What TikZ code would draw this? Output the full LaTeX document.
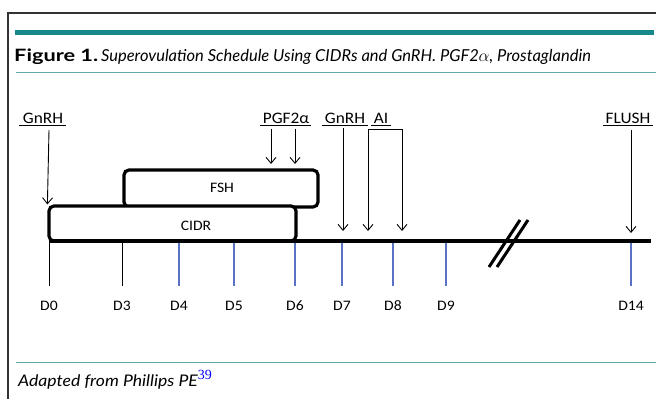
\documentclass[tikz,border=0pt]{standalone}
\usepackage{fontspec}
\setmainfont{Lato}
\newfontfamily\capbold[FakeStretch=1.28]{Lato}
\newfontfamily\footfont[FakeStretch=1.1]{Lato}
\newfontfamily\diag[FakeStretch=1.08]{Carlito}
\newfontfamily\sernum{Liberation Serif}
\usetikzlibrary{arrows.meta}
\definecolor{tealbar}{HTML}{17888A}
\definecolor{tealline}{HTML}{63A9AC}
\definecolor{tickblue}{HTML}{5A72C6}
\definecolor{framegray}{HTML}{333333}
\begin{document}
\begin{tikzpicture}[x=1pt,y=-1pt,
  lbl/.style={font=\diag\fontsize{16}{16}\selectfont, inner sep=0pt, anchor=base},
  day/.style={font=\diag\fontsize{14.5}{14}\selectfont, inner sep=0pt},
  boxtxt/.style={font=\diag\fontsize{14.5}{14}\selectfont, inner sep=0pt},
  arr/.style={-{Straight Barb[length=6pt,width=10pt]}, line width=0.9pt},
  uline/.style={line width=0.8pt},
  box/.style={draw, line width=3.2pt, rounded corners=5pt, fill=white, inner sep=0pt},
  tickk/.style={line width=1pt},
  tickb/.style={line width=1.2pt, draw=tickblue}]
\useasboundingbox (0,0) rectangle (656,399);
% frame
\draw[framegray, line width=1.5pt] (8,399) -- (8,13) -- (656,13);
\fill[tealbar] (15,29.5) rectangle (654,34.5);
\draw[tealline, line width=1pt] (16,72) -- (656,72);
\draw[tealline, line width=1pt] (16,362) -- (656,362);
% caption
\node[anchor=base west, inner sep=0pt] (cap) at (14,61.5)
  {\capbold\bfseries\fontsize{17}{17}\selectfont Figure 1.\,\normalfont\itshape\fontsize{16.5}{17}\selectfont Superovulation Schedule Using CIDRs and GnRH. PGF2$\alpha$, Prostaglandin};
\node[anchor=base west, inner sep=0pt] (foot) at (18,386)
  {\footfont\itshape\fontsize{16}{16}\selectfont Adapted from Phillips PE\textsuperscript{\upshape\sernum\fontsize{14}{14}\selectfont\color{blue}39}};
% boxes
\node[box, minimum width=194pt, minimum height=37pt] (fsh) at (221,188.5) {};
\node[box, minimum width=247pt, minimum height=35pt] (cidr) at (172.5,223.5) {};
\node[boxtxt] (fshtxt) at (222,188) {FSH};
\node[boxtxt] (cidrtxt) at (196,226) {CIDR};
% timeline
\coordinate (t0) at (49,241);
\coordinate (tend) at (651,241);
\draw[line width=4pt] (t0) -- (tend);
% ticks and labels
\foreach \x/\n/\s in {49/0/tickk,122/3/tickk,179/4/tickb,234/5/tickb,295/6/tickb,342/7/tickb,393/8/tickb,446/9/tickb,631/14/tickb}{
  \coordinate (ka\n) at (\x,243);
  \coordinate (kb\n) at (\x,286);
  \draw[\s] (ka\n) -- (kb\n);
  \node[day] (d\n) at (\x,306) {D\n};
}
% break marks
\coordinate (b1a) at (489,267); \coordinate (b1b) at (520,220);
\coordinate (b2a) at (497,267); \coordinate (b2b) at (528,220);
\draw[line width=3pt] (b1a) -- (b1b);
\draw[line width=3pt] (b2a) -- (b2b);
% top labels
\node[lbl] (g1) at (43,123) {GnRH};
\node[lbl] (pgf) at (286,123) {PGF2α};
\node[lbl] (g2) at (345,123) {GnRH};
\node[lbl] (ai) at (381,123) {AI};
\node[lbl] (fl) at (628,123) {FLUSH};
\draw[uline] (19,125.5) -- (66,125.5);
\draw[uline] (260,125.5) -- (311,125.5);
\draw[uline] (322,125.5) -- (368,125.5);
\draw[uline] (371,125.5) -- (391,125.5);
\draw[uline] (603,125.5) -- (653,125.5);
% arrows
\coordinate (a1) at (49,130);
\draw[arr] (a1) -- (cidr.north west);
\coordinate (p1a) at (271,129); \coordinate (p1b) at (271,164);
\coordinate (p2a) at (295,129); \coordinate (p2b) at (295,164);
\draw[arr] (p1a) -- (p1b);
\draw[arr] (p2a) -- (p2b);
\coordinate (g2a) at (343,128); \coordinate (g2b) at (343,231);
\draw[arr] (g2a) -- (g2b);
\coordinate (aia) at (368,129); \coordinate (aib) at (368,231);
\coordinate (aic) at (402,129); \coordinate (aid) at (402,231);
\draw[line width=0.9pt] (aia) -- (aic);
\draw[arr] (aia) -- (aib);
\draw[arr] (aic) -- (aid);
\coordinate (fa) at (631,130); \coordinate (fb) at (631,233);
\draw[arr] (fa) -- (fb);
\end{tikzpicture}
\end{document}
